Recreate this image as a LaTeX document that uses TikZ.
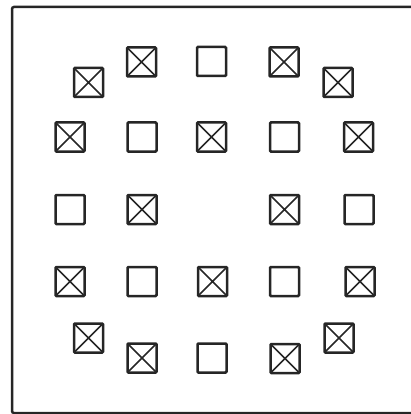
\documentclass[tikz,border=0pt]{standalone}
\begin{document}
\begin{tikzpicture}[x=1pt,y=-1pt,
  cell/.style={draw=black!85,line width=2.5pt,rounded corners=1pt,minimum size=29pt,inner sep=0pt,outer sep=0pt},
  xcell/.style={cell,path picture={
      \draw[line width=1.6pt,black!85] (path picture bounding box.north west) -- (path picture bounding box.south east)
            (path picture bounding box.north east) -- (path picture bounding box.south west);}},
  frame/.style={draw=black!85,line width=2.5pt,rounded corners=2pt}]
\useasboundingbox (0,0) rectangle (411,414);
\draw[frame] (413,7) -- (12,7) -- (12,413) -- (413,413);
% row 1
\node[xcell] (a1) at (88.5,82.5) {};
\node[xcell] (a2) at (141.5,62) {};
\node[cell]  (a3) at (211.5,61.5) {};
\node[xcell] (a4) at (284,62) {};
\node[xcell] (a5) at (338,82.5) {};
% row 2
\node[xcell] (b1) at (70,137) {};
\node[cell]  (b2) at (142,137) {};
\node[xcell] (b3) at (211.5,137) {};
\node[cell]  (b4) at (284.5,137) {};
\node[xcell] (b5) at (358.5,137) {};
% row 3
\node[cell]  (c1) at (70,209.5) {};
\node[xcell] (c2) at (142,209.5) {};
\node[xcell] (c4) at (284.5,209.5) {};
\node[cell]  (c5) at (359,209.5) {};
% row 4
\node[xcell] (d1) at (70,281.5) {};
\node[cell]  (d2) at (142,281.5) {};
\node[xcell] (d3) at (212.5,281.5) {};
\node[cell]  (d4) at (284.5,281.5) {};
\node[xcell] (d5) at (360,281.5) {};
% row 5
\node[xcell] (e1) at (88.5,338) {};
\node[xcell] (e2) at (142,358) {};
\node[cell]  (e3) at (212,358) {};
\node[xcell] (e4) at (285,358.5) {};
\node[xcell] (e5) at (339,338) {};
\end{tikzpicture}
\end{document}
